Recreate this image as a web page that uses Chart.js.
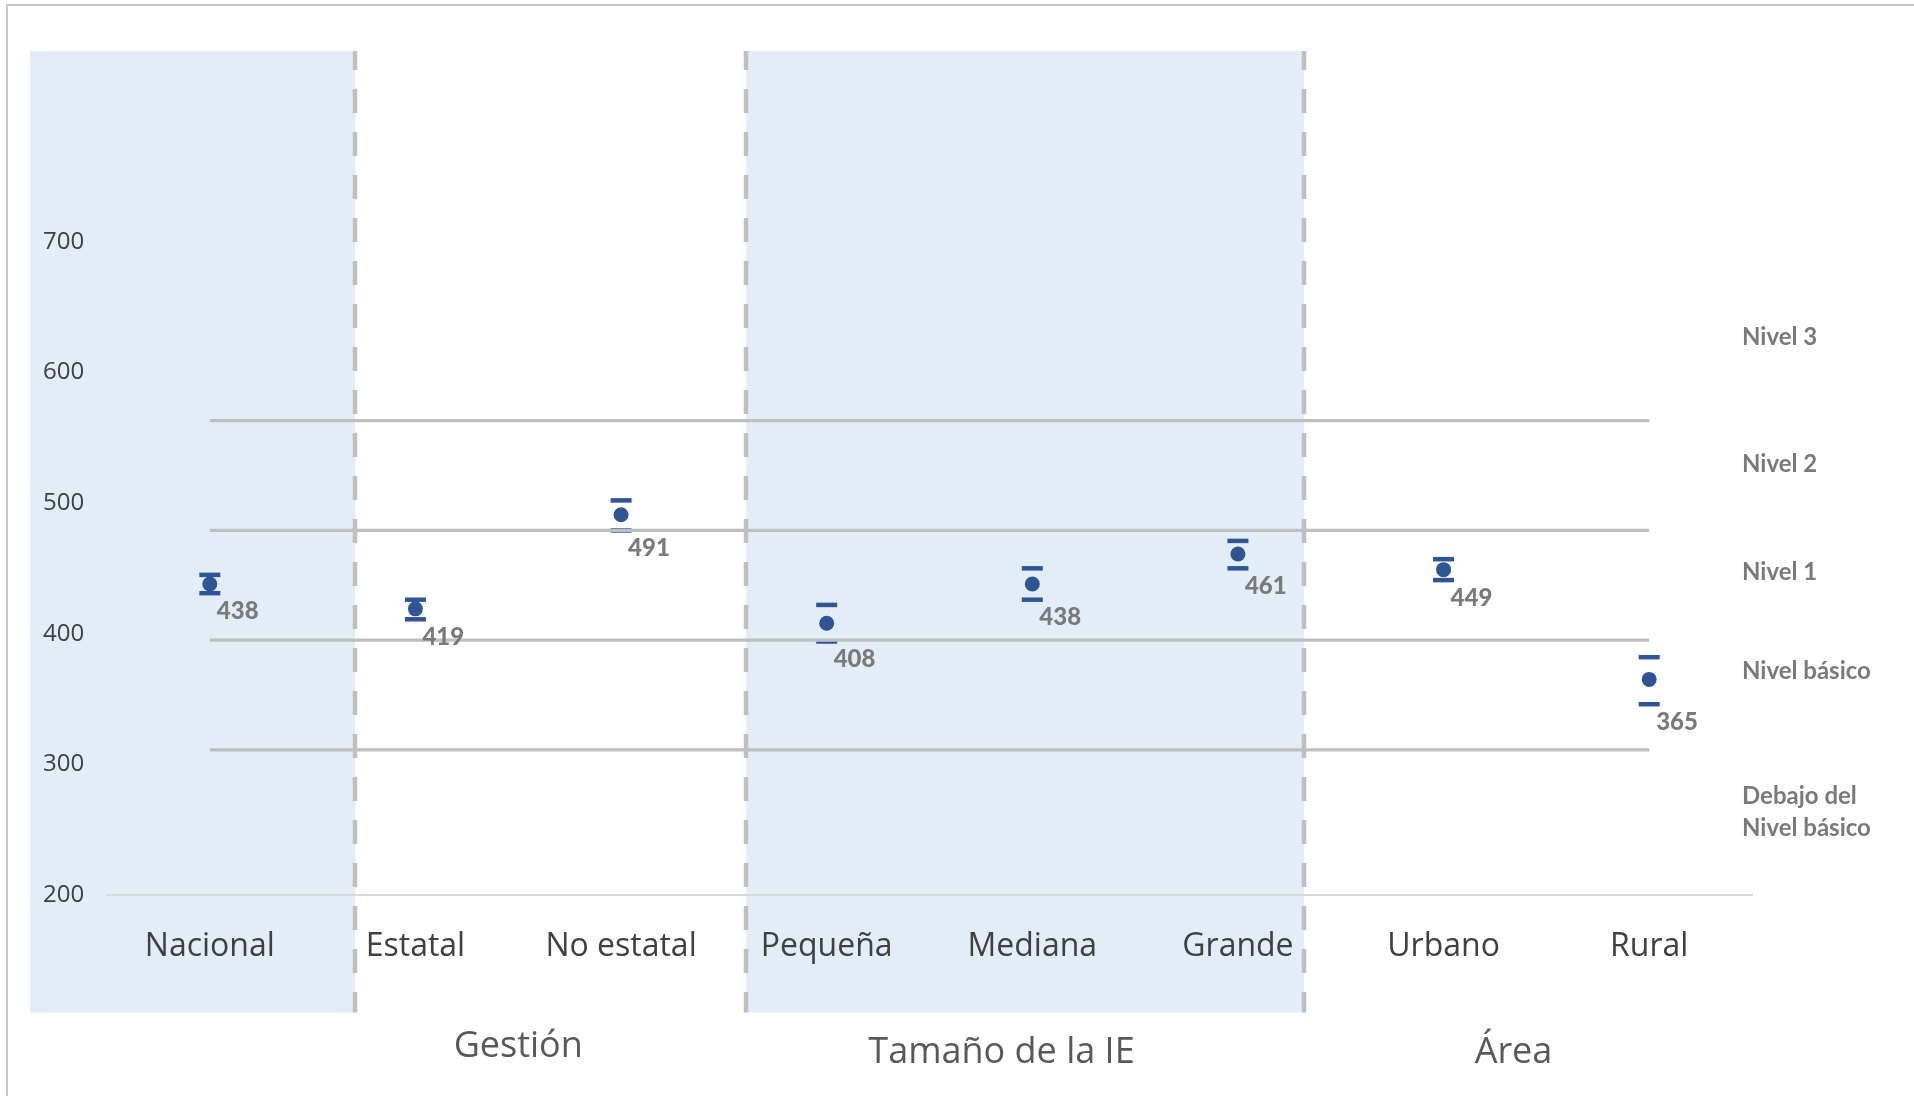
<!DOCTYPE html>
<html>
<head>
<meta charset="utf-8">
<script src="https://cdn.jsdelivr.net/npm/chart.js@4.4.1/dist/chart.umd.min.js"></script>
<style>
  html, body { margin: 0; padding: 0; background: #fff; overflow: hidden; }
  #frame { position: absolute; left: 6px; top: 4px; width: 2000px; height: 1200px; border: 2px solid #c6c6c6; }
  #chart { position: absolute; left: 0; top: 0; }
</style>
</head>
<body>
<div id="frame"></div>
<canvas id="chart" width="1914" height="1096"></canvas>
<script>
// Data
var categories = ["Nacional", "Estatal", "No estatal", "Pequeña", "Mediana", "Grande", "Urbano", "Rural"];
var means = [438, 419, 491, 408, 438, 461, 449, 365];
var upperCI = [445, 426, 502, 422, 450, 471, 457, 382];
var lowerCI = [431, 411, 479, 394, 426, 450, 441, 346];
var levelCuts = [311, 395, 479, 563];
var levelNames = [["Debajo del", "Nivel básico"], ["Nivel básico"], ["Nivel 1"], ["Nivel 2"], ["Nivel 3"]];
var groupNames = ["Gestión", "Tamaño de la IE", "Área"];

// decoration placement, in axis units
var separators = [0.706, 2.608, 5.322];
var bands = [[-0.874, 0.706], [2.608, 5.322]];
var bandTop = 846, bandBottom = 110;
var groupPos = [1.5, 3.85, 6.34];
var levelLabelY = [263, 371, 447, 530, 627];

var blue = "#2f5597";
var grey = "#bfbfbf";

function flat(v) {
  return categories.map(function() { return v; });
}

var datasets = levelCuts.map(function(cut) {
  return {
    type: "line",
    data: flat(cut),
    borderColor: grey,
    borderWidth: 3.3,
    pointRadius: 0,
    fill: false
  };
});

datasets.push({
  type: "line", data: upperCI, showLine: false,
  pointStyle: "line", pointRadius: 10.5, pointBorderWidth: 4.5,
  pointBorderColor: blue, pointBackgroundColor: blue
});
datasets.push({
  type: "line", data: lowerCI, showLine: false,
  pointStyle: "line", pointRadius: 10.5, pointBorderWidth: 4.5,
  pointBorderColor: blue, pointBackgroundColor: blue
});
datasets.push({
  type: "line", data: means, showLine: false,
  pointStyle: "circle", pointRadius: 7.5, pointBorderWidth: 0,
  pointBackgroundColor: blue, pointBorderColor: blue
});

var decoPlugin = {
  id: "deco",
  beforeDraw: function(chart) {
    var ctx = chart.ctx;
    var x = chart.scales.x, y = chart.scales.y;
    var top = y.getPixelForValue(bandTop), bottom = y.getPixelForValue(bandBottom);
    ctx.save();
    ctx.fillStyle = "#e2edf8";
    bands.forEach(function(b) {
      var x0 = x.getPixelForValue(b[0]), x1 = x.getPixelForValue(b[1]);
      ctx.fillRect(x0, top, x1 - x0, bottom - top);
    });
    ctx.strokeStyle = grey;
    ctx.lineWidth = 4.5;
    ctx.setLineDash([24, 19]);
    ctx.lineDashOffset = 5;
    separators.forEach(function(s) {
      var px = Math.round(x.getPixelForValue(s));
      ctx.beginPath();
      ctx.moveTo(px, top);
      ctx.lineTo(px, bottom);
      ctx.stroke();
    });
    ctx.restore();
  },
  afterDatasetsDraw: function(chart) {
    var ctx = chart.ctx;
    var x = chart.scales.x, y = chart.scales.y;
    var meanMeta = chart.getDatasetMeta(levelCuts.length + 2);
    var lowMeta = chart.getDatasetMeta(levelCuts.length + 1);
    ctx.save();
    // value labels
    ctx.font = "900 24px Lato";
    ctx.fillStyle = "#7a7a7a";
    ctx.textAlign = "left";
    ctx.textBaseline = "middle";
    means.forEach(function(v, i) {
      var p = meanMeta.data[i], lp = lowMeta.data[i];
      ctx.fillText(String(v), p.x + 7, lp.y + 18);
    });
    // level names on the right
    ctx.font = "bold 24px Lato";
    levelNames.forEach(function(lines, i) {
      var cy = y.getPixelForValue(levelLabelY[i]);
      var start = cy - (lines.length - 1) * 16;
      lines.forEach(function(t, j) {
        ctx.fillText(t, 1742, start + j * 32);
      });
    });
    // group titles under the axis
    ctx.font = "36px 'Open Sans'";
    ctx.fillStyle = "#595959";
    ctx.textAlign = "center";
    groupNames.forEach(function(g, i) {
      ctx.fillText(g, x.getPixelForValue(groupPos[i]), i === 0 ? 1047 : 1053);
    });
    ctx.restore();
  }
};

new Chart(document.getElementById("chart").getContext("2d"), {
  type: "line",
  data: { labels: categories, datasets: datasets },
  options: {
    responsive: false,
    animation: false,
    devicePixelRatio: 1,
    layout: { padding: { left: 43, right: 162, top: 111, bottom: 116 } },
    plugins: { legend: { display: false }, tooltip: { enabled: false } },
    scales: {
      x: {
        offset: true,
        grid: { display: false, drawTicks: false },
        border: { display: true, color: "#d9d9d9", width: 2 },
        ticks: { font: { family: "Open Sans", size: 32 }, color: "#404040", padding: 33, maxRotation: 0 },
        afterFit: function(s) { s.height = 85; }
      },
      y: {
        min: 200, max: 800,
        grid: { display: false, drawTicks: false },
        border: { display: false },
        ticks: {
          stepSize: 100,
          font: { family: "Open Sans", size: 24 }, color: "#404040",
          padding: 24, crossAlign: "far",
          callback: function(v) { return v === 800 ? "" : v; }
        },
        afterFit: function(s) { s.width = 64; }
      }
    }
  },
  plugins: [decoPlugin]
});
</script>
</body>
</html>
